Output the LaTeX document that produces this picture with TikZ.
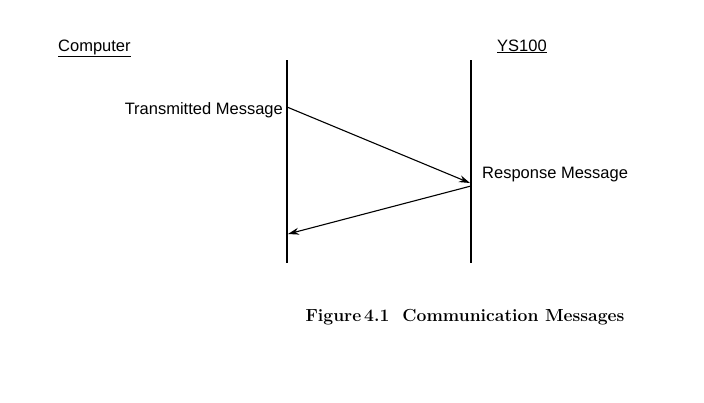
\documentclass[tikz,border=0pt]{standalone}
\usepackage{fontspec}
\newfontfamily\lab{Liberation Sans}
\usetikzlibrary{arrows.meta}
\begin{document}
\begin{tikzpicture}[x=1pt,y=-1pt,
  lbl/.style={font=\lab\fontsize{16.5}{19}\selectfont,inner sep=0pt},
  life/.style={line width=1.4pt},
  msg/.style={line width=1.1pt,-{Stealth[length=11pt,width=7pt]}}]
\useasboundingbox (0,0) rectangle (704,402);
\coordinate (ct) at (287,60); \coordinate (cb) at (287,263);
\coordinate (yt) at (471,60); \coordinate (yb) at (471,263);
\draw[life] (ct) -- (cb);
\draw[life] (yt) -- (yb);
\node[lbl,anchor=base west] (comp) at (58,51) {\underline{Computer}};
\node[lbl,anchor=base west] (ys) at (497,51) {\underline{YS100}};
\node[lbl,anchor=base east] (tm) at (283,114) {Transmitted Message};
\node[lbl,anchor=base west] (rm) at (482,178) {Response Message};
\coordinate (a1) at (287,107); \coordinate (a2) at (470,183);
\coordinate (b1) at (471,186); \coordinate (b2) at (288,234);
\draw[msg] (a1) -- (a2);
\draw[msg] (b1) -- (b2);
\node[font=\bfseries\fontsize{17.5}{20}\selectfont,inner sep=0pt] (cap) at (465,317) {Figure\,4.1\ \ Communication Messages};
\end{tikzpicture}
\end{document}
